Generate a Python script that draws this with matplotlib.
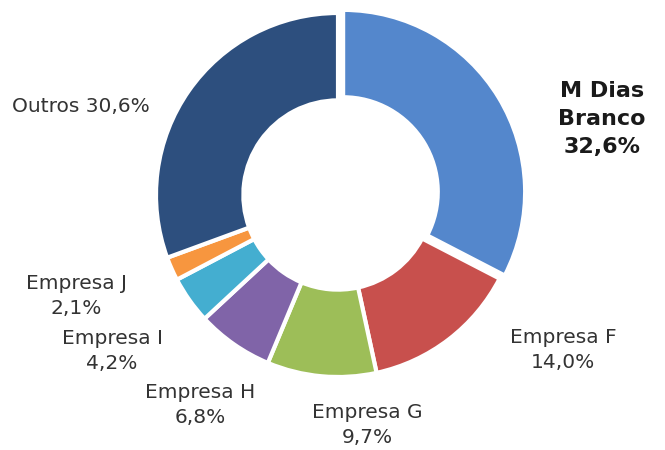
import matplotlib.pyplot as plt

# data
labels = ['M Dias\nBranco\n32,6%', 'Empresa F\n14,0%', 'Empresa G\n9,7%',
          'Empresa H\n6,8%', 'Empresa I\n4,2%', 'Empresa J\n2,1%', 'Outros 30,6%']
shares = [32.6, 14.0, 9.7, 6.8, 4.2, 2.1, 30.6]
colors = ['#5487CC', '#C8504D', '#9DBE58', '#8064A8', '#44AED0', '#F7963F', '#2D4F7E']

# label placement (pixel coords, y from top)
label_xy = [(602, 119), (563, 350), (367, 425), (200, 405), (112, 351), (76, 296), (84, 107)]

plt.rcParams['font.family'] = ['DejaVu Sans']

fig = plt.figure(figsize=(6.65, 4.5), dpi=100)
ax = fig.add_axes([0, 0, 1, 1])
ax.axis('off')

cx, cy, r = 338, 450 - 195, 182
explode = [6, 0, 0, 0, 0, 0, 0]
ax.pie(shares, colors=colors, startangle=90, counterclock=False,
       center=(cx, cy), radius=r, explode=explode,
       wedgeprops=dict(width=r * 0.48, edgecolor='white', linewidth=3))
ax.set_aspect('equal')
ax.set_xlim(0, 665)
ax.set_ylim(0, 450)

for i, (lab, (x, y)) in enumerate(zip(labels, label_xy)):
    if i == 0:
        ax.text(x, 450 - y, lab, ha='center', va='center', fontsize=16,
                fontweight='bold', color='#1a1a1a', linespacing=1.5)
    elif i == 6:
        ax.text(12, 450 - y, lab, ha='left', va='center', fontsize=14.5,
                color='#333333')
    else:
        ax.text(x, 450 - y, lab, ha='center', va='center', fontsize=14.5,
                color='#333333', linespacing=1.35)

fig.savefig('out.png', dpi=100)
